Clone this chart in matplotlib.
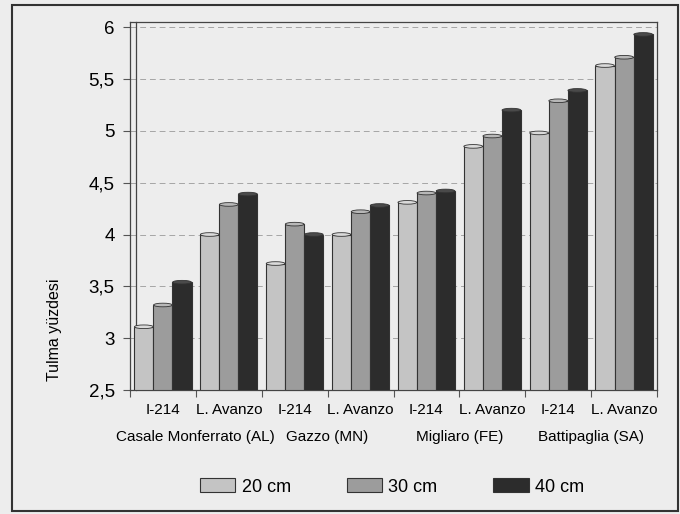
import matplotlib.pyplot as plt
import numpy as np
from matplotlib.patches import Rectangle, Ellipse

# veriler (okunan degerler)
cesitler = ['I-214', 'L. Avanzo', 'I-214', 'L. Avanzo', 'I-214', 'L. Avanzo', 'I-214', 'L. Avanzo']
yerler = ['Casale Monferrato (AL)', 'Gazzo (MN)', 'Migliaro (FE)', 'Battipaglia (SA)']
derinlik = ['20 cm', '30 cm', '40 cm']
d20 = [3.11, 4.00, 3.72, 4.00, 4.31, 4.85, 4.98, 5.63]
d30 = [3.32, 4.29, 4.10, 4.22, 4.40, 4.95, 5.29, 5.71]
d40 = [3.54, 4.39, 4.00, 4.28, 4.42, 5.20, 5.39, 5.93]
yticks = [2.5, 3, 3.5, 4, 4.5, 5, 5.5, 6]
ytick_labels = ['2,5', '3', '3,5', '4', '4,5', '5', '5,5', '6']

renkler = ['#c4c4c4', '#9c9c9c', '#2c2c2c']
kapak = ['#dadada', '#b8b8b8', '#4a4a4a']
normal = ['Liberation Sans', 'DejaVu Sans']

fig = plt.figure(figsize=(6.8, 5.14), dpi=100, facecolor='#ededed')
ax = fig.add_axes([130/680, 1-390/514, 527/680, 368/514])
ax.set_facecolor('#ededed')

x = np.arange(len(cesitler))
w = 0.29
for i, seri in enumerate([d20, d30, d40]):
    ax.bar(x + (i-1)*w, np.array(seri) - 2.5, w, bottom=2.5, color=renkler[i],
           edgecolor='#333333', linewidth=0.8, label=derinlik[i], zorder=3)
    # silindir kapagi
    for xi, yi in zip(x + (i-1)*w, seri):
        ax.add_patch(Ellipse((xi, yi), w*0.98, 0.035, facecolor=kapak[i],
                             edgecolor='#333333', linewidth=0.6, zorder=4))

ax.set_xlim(-0.5, 7.5)
ax.set_ylim(2.5, 6.05)
ax.set_yticks(yticks)
ax.set_yticklabels(ytick_labels, fontsize=13.5, family=normal)
ax.yaxis.grid(True, linestyle=(0, (6, 4)), color='#a5a5a5', linewidth=0.7, zorder=0)
ax.tick_params(axis='y', length=5, width=0.8, pad=6, color='#555555')

ax.set_xticks(x)
ax.set_xticklabels(cesitler, fontsize=11, family=normal)
ax.tick_params(axis='x', length=0, pad=9)
ax.set_xticks(np.arange(-0.5, 8, 1), minor=True)
ax.tick_params(axis='x', which='minor', length=5, width=0.8, color='#555555')

for s in ax.spines.values():
    s.set_color('#444444')
    s.set_linewidth(0.9)
# ikinci sol cizgi (3B duvar)
ax.plot([0.011, 0.011], [0, 1.0], transform=ax.transAxes, color='#444444', lw=0.9, clip_on=False)

for k, yer in enumerate(yerler):
    ax.text(2*k + 0.5, -0.128, yer, transform=ax.get_xaxis_transform(),
            ha='center', va='center', fontsize=11, family=normal)

fig.text(55/680, 1-330/514, 'Tulma yüzdesi', rotation=90, ha='center', va='center',
         fontsize=11.5, family=normal)

fig.legend(loc='center', bbox_to_anchor=(392/680, 1-487/514), ncol=3, frameon=False,
           prop={'family': normal, 'size': 13}, handlelength=1.95, handleheight=0.8,
           handletextpad=0.35, columnspacing=3.1)

fig.add_artist(Rectangle((12/680, 3/514), 666/680, 506/514, transform=fig.transFigure,
                         fill=False, edgecolor='#333333', linewidth=1.5))

fig.savefig('out.png', dpi=100, facecolor=fig.get_facecolor())
